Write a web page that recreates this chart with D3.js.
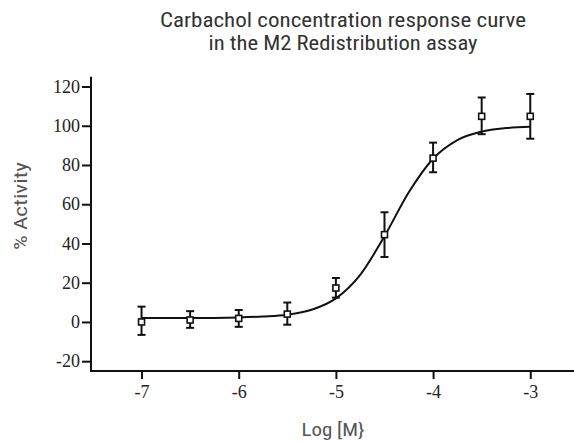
<!DOCTYPE html>
<html><head><meta charset="utf-8">
<script src="https://cdn.jsdelivr.net/npm/d3@7/dist/d3.min.js"></script>
<style>
body{margin:0;background:#fff;}
svg{display:block;}
</style></head>
<body>
<script>
// Data
const logConc = [-7, -6.5, -6, -5.5, -5, -4.5, -4, -3.5, -3];
const activity = [0, 1, 1.8, 4, 17.3, 44.5, 83.5, 104.8, 104.8];
const errTop = [7.8, 4.5, 4.3, 5.9, 5.1, 11.4, 7.9, 9.6, 11.4];
const errBottom = [6.6, 4.0, 4.3, 5.4, 4.9, 11.4, 7.2, 9.1, 11.4];
const curveX = [-7, -6.5, -6, -5.75, -5.5, -5.25, -5, -4.75, -4.5, -4.25, -4, -3.75, -3.5, -3.25, -3];
const curveY = [2.0, 2.0, 2.3, 2.8, 3.7, 6.2, 12.0, 24.0, 43.7, 66.1, 83.2, 92.7, 97.0, 98.8, 99.5];
const xTicks = [-7, -6, -5, -4, -3];
const yTicks = [-20, 0, 20, 40, 60, 80, 100, 120];
const titleLines = ["Carbachol concentration response curve", "in the M2 Redistribution assay"];
const xLabel = "Log [M}";
const yLabel = "% Activity";

const SERIF = '"Liberation Serif", "Times New Roman", Times, "DejaVu Serif", serif';
const COND = '"Liberation Sans Narrow", "Roboto Condensed", "Liberation Sans", Arial, sans-serif';

const W = 574, H = 442;
const svg = d3.select("body").append("svg").attr("width", W).attr("height", H);

const x = d3.scaleLinear().domain([-7.52, -2.55]).range([91, 574]);
const y = d3.scaleLinear().domain([-25, 125]).range([371, 76.7]);

const fmt = d => String(d);
const xAxis = d3.axisBottom(x).tickValues(xTicks).tickFormat(fmt).tickSize(8).tickPadding(6);
const yAxis = d3.axisLeft(y).tickValues(yTicks).tickFormat(fmt).tickSize(9).tickPadding(2);

const gx = svg.append("g").attr("transform", `translate(0,${y.range()[0]})`).call(xAxis);
const gy = svg.append("g").attr("transform", `translate(${x.range()[0]},0)`).call(yAxis);
[gx, gy].forEach(g => {
  g.attr("font-family", SERIF).attr("font-size", 18);
  g.select(".domain").attr("stroke", "#111").attr("stroke-width", 2);
  g.selectAll(".tick line").attr("stroke", "#111").attr("stroke-width", 2);
  g.selectAll(".tick text").attr("fill", "#222")
    .attr("font-family", SERIF).style("font-family", SERIF).style("font-size", "18px");
});
gx.select(".domain").attr("d", `M${x.range()[0]},0H${x.range()[1]}`);
gy.select(".domain").attr("d", `M0,${y.range()[0] + 1}V${y.range()[1]}`);

// fitted curve
const line = d3.line().x((d, i) => x(curveX[i])).y((d, i) => y(curveY[i])).curve(d3.curveMonotoneX);
svg.append("path").datum(curveY).attr("d", line).attr("fill", "none").attr("stroke", "#111").attr("stroke-width", 2);

// error bars
const eb = svg.append("g").attr("stroke", "#111").attr("stroke-width", 2);
logConc.forEach((c, i) => {
  const cx = x(c), yt = y(activity[i] + errTop[i]), yb = y(activity[i] - errBottom[i]);
  eb.append("line").attr("x1", cx).attr("x2", cx).attr("y1", yt).attr("y2", yb);
  eb.append("line").attr("x1", cx - 4).attr("x2", cx + 4).attr("y1", yt).attr("y2", yt);
  eb.append("line").attr("x1", cx - 4).attr("x2", cx + 4).attr("y1", yb).attr("y2", yb);
});
// markers
svg.append("g").selectAll("rect").data(activity).join("rect")
  .attr("x", (d, i) => x(logConc[i]) - 3).attr("y", d => y(d) - 3)
  .attr("width", 6).attr("height", 6)
  .attr("fill", "#fff").attr("stroke", "#111").attr("stroke-width", 1.6);

// title
const titleW = [366, 269];
titleLines.forEach((s, i) => svg.append("text").style("font-family", COND).attr("text-anchor", "middle")
  .attr("fill", "#333").style("font-size", "20px")
  .attr("x", 343).attr("y", 27 + i * 23)
  .attr("textLength", titleW[i]).attr("lengthAdjust", "spacingAndGlyphs").text(s));

svg.append("text").style("font-family", COND).attr("text-anchor", "middle").attr("fill", "#555")
  .style("font-size", "19px").attr("x", 333).attr("y", 436)
  .attr("textLength", 63).attr("lengthAdjust", "spacingAndGlyphs").text(xLabel);
svg.append("text").style("font-family", COND).attr("text-anchor", "middle").attr("fill", "#555")
  .style("font-size", "19px").attr("transform", "translate(27,206) rotate(-90)")
  .attr("textLength", 88).attr("lengthAdjust", "spacingAndGlyphs").text(yLabel);
</script>
</body></html>
